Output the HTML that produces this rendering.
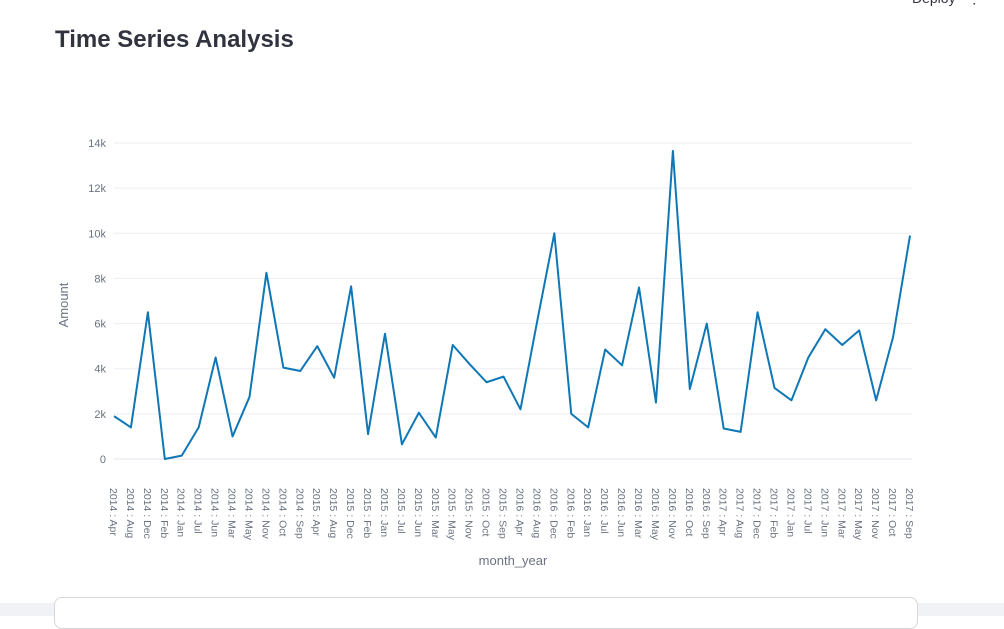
<!DOCTYPE html>
<html><head><meta charset="utf-8"><style>
body{margin:0;width:1004px;height:616px;overflow:hidden;background:#fff;font-family:"Liberation Sans",sans-serif;position:relative}
h1{position:absolute;left:55px;top:26px;margin:0;font-size:24px;font-weight:bold;color:#31333f}
.deploy{position:absolute;left:912px;top:-10px;font-size:14px;color:#31333f}
.bottom{position:absolute;left:0;top:603px;width:1004px;height:13px;background:#f0f2f6}
.box{position:absolute;left:54px;top:597px;width:862px;height:30px;border:1px solid #d6d6d9;border-radius:8px;background:#fff}
</style></head><body>
<div class="deploy">Deploy &nbsp; ⋮</div>
<h1>Time Series Analysis</h1>
<svg id="chart" width="1004" height="616" style="position:absolute;left:0;top:0"></svg>
<div class="bottom"></div>
<div class="box"></div>
<script>
const years=["2014","2015","2016","2017"];
const months=["Apr","Aug","Dec","Feb","Jan","Jul","Jun","Mar","May","Nov","Oct","Sep"];
const categories=[];years.forEach(y=>months.forEach(m=>categories.push(y+" : "+m)));
const values=[1.9,1.4,6.5,0,0.15,1.4,4.5,1.0,2.75,8.25,4.05,3.9,5.0,3.6,7.65,1.1,5.55,0.65,2.05,0.95,5.05,4.2,3.4,3.65,2.2,6.15,10.0,2.0,1.4,4.85,4.15,7.6,2.5,13.65,3.1,6.0,1.35,1.2,6.5,3.15,2.6,4.5,5.75,5.05,5.7,2.6,5.4,9.9].map(v=>v*1000);
const yTicks=[0,2000,4000,6000,8000,10000,12000,14000];
const yTickLabels=["0","2k","4k","6k","8k","10k","12k","14k"];
const svg=document.getElementById('chart');const NS="http://www.w3.org/2000/svg";
const x0=114,x1=910,yb=459,yt=143;
const xs=i=>x0+i*(x1-x0)/(categories.length-1);
const ys=v=>yb-(v/14000)*(yb-yt);
function mk(t,a){const e=document.createElementNS(NS,t);for(const k in a)e.setAttribute(k,a[k]);svg.appendChild(e);return e;}
yTicks.forEach((t,i)=>{
 const g=mk('line',{x1:x0,x2:912,y1:ys(t),y2:ys(t),stroke:t===0?'#e0e3e8':'#eceef2','stroke-width':1});
 
 
 const l=mk('text',{x:x0-8,y:ys(t)+4,'text-anchor':'end','font-size':11,fill:'#6b7280'});l.textContent=yTickLabels[i];
 
 
});
categories.forEach((c,i)=>{
 const l=mk('text',{transform:`translate(${xs(i)-4},488) rotate(90)`,'font-size':10.5,fill:'#6b7280'});l.textContent=c;
 
 
});
const p=mk('polyline',{points:values.map((v,i)=>xs(i)+','+ys(v)).join(' '),fill:'none',stroke:'#0f77b5','stroke-width':2,'stroke-linejoin':'round'});


const yt2=mk('text',{transform:'translate(68,305) rotate(-90)','text-anchor':'middle','font-size':13,fill:'#6b7280'});yt2.textContent='Amount';


const xt=mk('text',{x:513,y:565,'text-anchor':'middle','font-size':13,fill:'#6b7280'});xt.textContent='month_year';


</script>
</body></html>
